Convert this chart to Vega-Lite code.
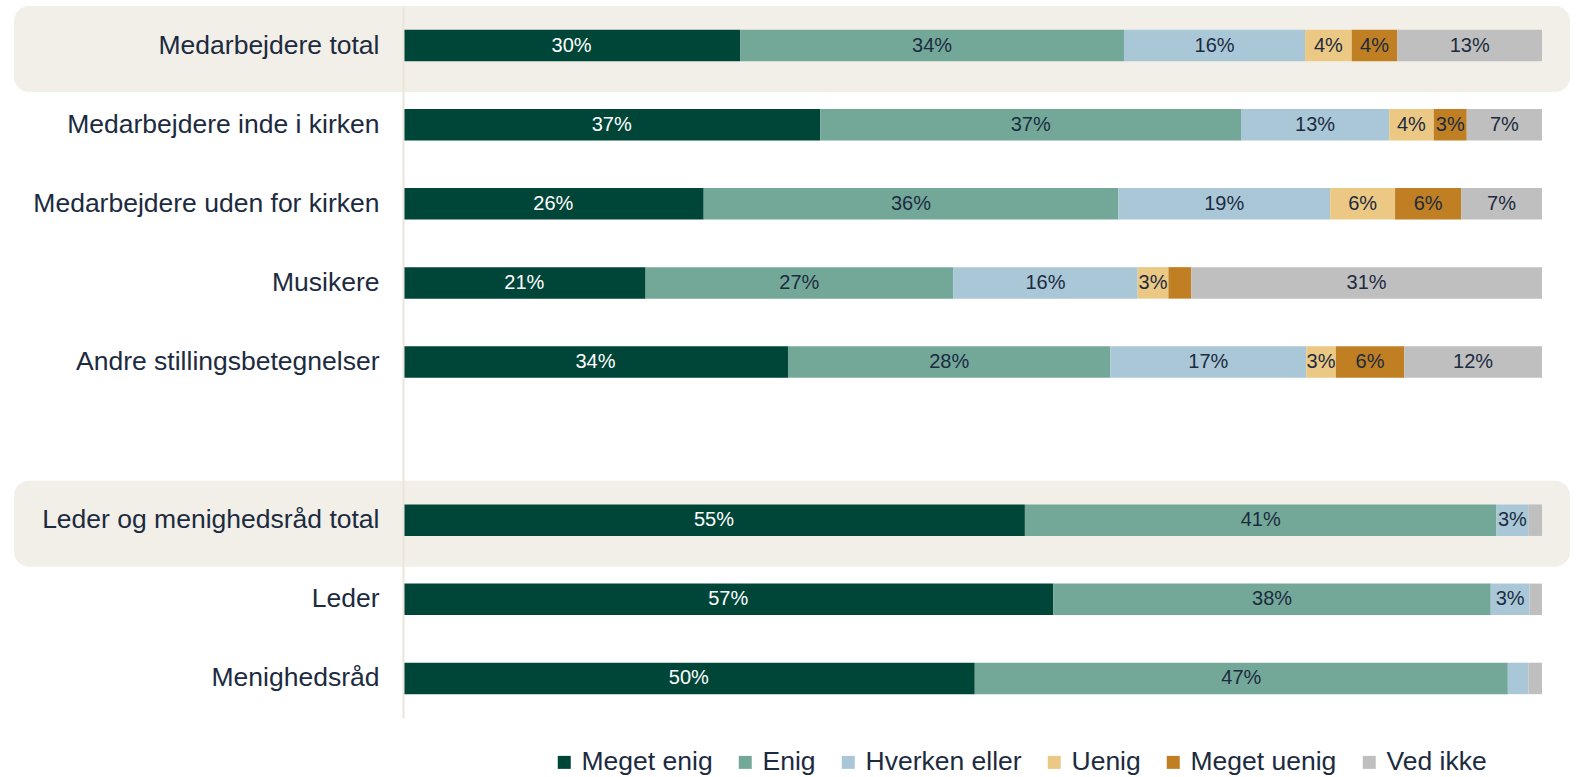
{
  "$schema": "https://vega.github.io/schema/vega-lite/v6.json",
  "width": 1139,
  "height": 712,
  "padding": {"left": 14, "top": 6, "right": 0, "bottom": 0},
  "autosize": {"type": "pad"},
  "config": {"view": {"stroke": null}, "font": "Liberation Sans"},
  "data": {"values": [
    {"group": "Medarbejdere total", "cat": "Meget enig", "k": 1, "v": 0.296},
    {"group": "Medarbejdere total", "cat": "Enig", "k": 2, "v": 0.337},
    {"group": "Medarbejdere total", "cat": "Hverken eller", "k": 3, "v": 0.159},
    {"group": "Medarbejdere total", "cat": "Uenig", "k": 4, "v": 0.041},
    {"group": "Medarbejdere total", "cat": "Meget uenig", "k": 5, "v": 0.040},
    {"group": "Medarbejdere total", "cat": "Ved ikke", "k": 6, "v": 0.127},
    {"group": "Medarbejdere inde i kirken", "cat": "Meget enig", "k": 1, "v": 0.366},
    {"group": "Medarbejdere inde i kirken", "cat": "Enig", "k": 2, "v": 0.369},
    {"group": "Medarbejdere inde i kirken", "cat": "Hverken eller", "k": 3, "v": 0.130},
    {"group": "Medarbejdere inde i kirken", "cat": "Uenig", "k": 4, "v": 0.039},
    {"group": "Medarbejdere inde i kirken", "cat": "Meget uenig", "k": 5, "v": 0.029},
    {"group": "Medarbejdere inde i kirken", "cat": "Ved ikke", "k": 6, "v": 0.066},
    {"group": "Medarbejdere uden for kirken", "cat": "Meget enig", "k": 1, "v": 0.264},
    {"group": "Medarbejdere uden for kirken", "cat": "Enig", "k": 2, "v": 0.364},
    {"group": "Medarbejdere uden for kirken", "cat": "Hverken eller", "k": 3, "v": 0.186},
    {"group": "Medarbejdere uden for kirken", "cat": "Uenig", "k": 4, "v": 0.057},
    {"group": "Medarbejdere uden for kirken", "cat": "Meget uenig", "k": 5, "v": 0.058},
    {"group": "Medarbejdere uden for kirken", "cat": "Ved ikke", "k": 6, "v": 0.071},
    {"group": "Musikere", "cat": "Meget enig", "k": 1, "v": 0.213},
    {"group": "Musikere", "cat": "Enig", "k": 2, "v": 0.270},
    {"group": "Musikere", "cat": "Hverken eller", "k": 3, "v": 0.162},
    {"group": "Musikere", "cat": "Uenig", "k": 4, "v": 0.027},
    {"group": "Musikere", "cat": "Meget uenig", "k": 5, "v": 0.020},
    {"group": "Musikere", "cat": "Ved ikke", "k": 6, "v": 0.308},
    {"group": "Andre stillingsbetegnelser", "cat": "Meget enig", "k": 1, "v": 0.338},
    {"group": "Andre stillingsbetegnelser", "cat": "Enig", "k": 2, "v": 0.283},
    {"group": "Andre stillingsbetegnelser", "cat": "Hverken eller", "k": 3, "v": 0.172},
    {"group": "Andre stillingsbetegnelser", "cat": "Uenig", "k": 4, "v": 0.026},
    {"group": "Andre stillingsbetegnelser", "cat": "Meget uenig", "k": 5, "v": 0.060},
    {"group": "Andre stillingsbetegnelser", "cat": "Ved ikke", "k": 6, "v": 0.121},
    {"group": "Leder og menighedsråd total", "cat": "Meget enig", "k": 1, "v": 0.546},
    {"group": "Leder og menighedsråd total", "cat": "Enig", "k": 2, "v": 0.414},
    {"group": "Leder og menighedsråd total", "cat": "Hverken eller", "k": 3, "v": 0.028},
    {"group": "Leder og menighedsråd total", "cat": "Uenig", "k": 4, "v": 0.0},
    {"group": "Leder og menighedsråd total", "cat": "Meget uenig", "k": 5, "v": 0.0},
    {"group": "Leder og menighedsråd total", "cat": "Ved ikke", "k": 6, "v": 0.012},
    {"group": "Leder", "cat": "Meget enig", "k": 1, "v": 0.571},
    {"group": "Leder", "cat": "Enig", "k": 2, "v": 0.384},
    {"group": "Leder", "cat": "Hverken eller", "k": 3, "v": 0.034},
    {"group": "Leder", "cat": "Uenig", "k": 4, "v": 0.0},
    {"group": "Leder", "cat": "Meget uenig", "k": 5, "v": 0.0},
    {"group": "Leder", "cat": "Ved ikke", "k": 6, "v": 0.011},
    {"group": "Menighedsråd", "cat": "Meget enig", "k": 1, "v": 0.502},
    {"group": "Menighedsråd", "cat": "Enig", "k": 2, "v": 0.468},
    {"group": "Menighedsråd", "cat": "Hverken eller", "k": 3, "v": 0.018},
    {"group": "Menighedsråd", "cat": "Uenig", "k": 4, "v": 0.0},
    {"group": "Menighedsråd", "cat": "Meget uenig", "k": 5, "v": 0.0},
    {"group": "Menighedsråd", "cat": "Ved ikke", "k": 6, "v": 0.012}
  ]},
  "encoding": {
    "y": {
      "field": "group",
      "type": "nominal",
      "sort": null,
      "scale": {
        "domain": ["Medarbejdere total", "Medarbejdere inde i kirken", "Medarbejdere uden for kirken", "Musikere", "Andre stillingsbetegnelser", " ", "Leder og menighedsråd total", "Leder", "Menighedsråd"],
        "paddingInner": 0,
        "paddingOuter": 0
      },
      "axis": {
        "title": null,
        "ticks": false,
        "zindex": 1,
        "domainColor": "#ebe5da",
        "domainWidth": 2,
        "labelFontSize": 26.5,
        "labelColor": "#1c2b40",
        "labelPadding": 24,
        "labelLimit": 500
      }
    }
  },
  "layer": [
    {
      "data": {"values": [{"group": "Medarbejdere total"}, {"group": "Leder og menighedsråd total"}]},
      "mark": {"type": "bar", "color": "#f2efe8", "cornerRadius": 15, "height": 86, "yOffset": 3.5},
      "encoding": {
        "x": {"datum": -0.3415, "type": "quantitative", "scale": {"domain": [0, 1], "nice": false, "zero": false}, "axis": null},
        "x2": {"datum": 1.0246}
      }
    },
    {
      "mark": {"type": "bar", "height": 31.5},
      "encoding": {
        "x": {"field": "v", "type": "quantitative", "stack": "normalize", "scale": {"domain": [0, 1], "nice": false}, "axis": null},
        "color": {
          "field": "cat",
          "type": "nominal",
          "scale": {
            "domain": ["Meget enig", "Enig", "Hverken eller", "Uenig", "Meget uenig", "Ved ikke"],
            "range": ["#004638", "#73a899", "#a9c7d7", "#ebc884", "#c07f23", "#bfbfbf"]
          },
          "legend": {
            "orient": "none",
            "legendX": 148,
            "legendY": 743,
            "direction": "horizontal",
            "title": null,
            "symbolType": "square",
            "symbolSize": 169,
            "symbolStrokeWidth": 0,
            "labelFontSize": 26.5,
            "labelColor": "#1c2b40",
            "labelOffset": 4,
            "columnPadding": 19
          }
        },
        "order": {"field": "k", "type": "quantitative"}
      }
    },
    {
      "mark": {"type": "text", "fontSize": 20, "baseline": "middle", "align": "center"},
      "encoding": {
        "x": {"field": "v", "type": "quantitative", "stack": "normalize", "bandPosition": 0.5},
        "order": {"field": "k", "type": "quantitative"},
        "text": {"condition": {"test": "datum.v < 0.025", "value": ""}, "field": "v", "type": "quantitative", "format": ".0%"},
        "color": {"condition": {"test": "datum.cat === 'Meget enig'", "value": "#ffffff"}, "value": "#1c2b40"}
      }
    }
  ]
}
